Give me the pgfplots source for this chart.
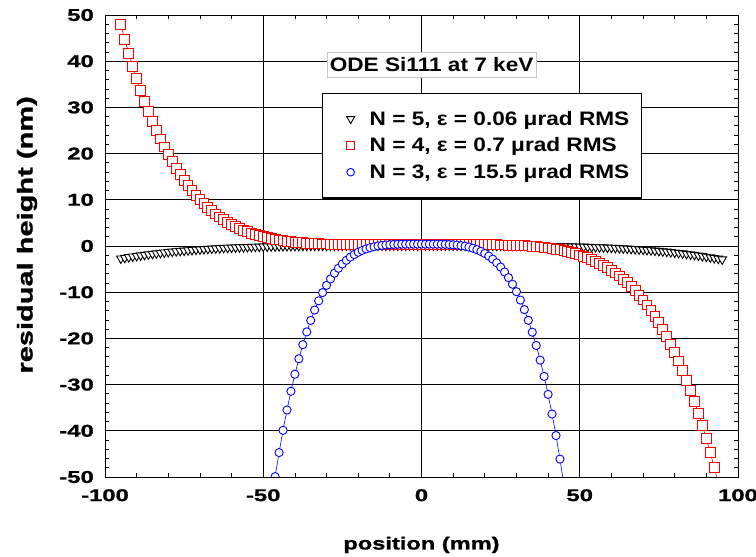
\documentclass[border=0pt]{standalone}
\usepackage{fontspec}
\setmainfont{Liberation Sans}[FakeStretch=1.16]
\newfontfamily\tickfont{Liberation Sans}[FakeStretch=1.4, FakeBold=1.2]
\newfontfamily\labfont{Liberation Sans}[FakeStretch=1.35, FakeBold=1.2]
\usepackage{pgfplots}
\pgfplotsset{compat=1.18}
\begin{document}
\begin{tikzpicture}
\useasboundingbox (0,0) rectangle (756pt,557pt);
\begin{axis}[
  at={(105pt,80pt)}, anchor=south west,
  width=633pt, height=462pt, scale only axis,
  xmin=-100, xmax=100, ymin=-50, ymax=50,
  xtick={-100,-50,0,50,100}, ytick={-50,-40,...,50},
  minor x tick num=4, minor y tick num=4,
  tick align=inside, major tick length=0pt, minor tick length=4pt,
  minor tick style={black, line width=0.8pt},
  grid=major, major grid style={black, line width=0.8pt},
  axis line style={black, line width=0.9pt},
  /pgf/number format/assume math mode=true,
  ticklabel style={font=\tickfont\bfseries\fontsize{17}{17}\selectfont, inner sep=0pt},
  yticklabel style={xshift=-11pt},
  xticklabel style={yshift=-12pt},
  xlabel={position (mm)}, ylabel={residual height (nm)},
  xlabel style={font=\labfont\bfseries\fontsize{17.5}{17.5}\selectfont, at={(axis description cs:0.5,-0.147)}, anchor=center},
  ylabel style={font=\labfont\bfseries\fontsize{21.5}{21.5}\selectfont, at={(axis description cs:-0.1232,0.524)}, anchor=center},
  clip marker paths=true,
  legend style={at={(0.343,0.832)}, anchor=north west, draw=black, line width=1.1pt, fill=white,
    font=\bfseries\fontsize{19.5}{19.5}\selectfont, inner xsep=12pt, inner ysep=18pt,
    row sep=11pt, column sep=13pt, nodes={inner sep=0pt}},
  legend cell align=left,
  legend image code/.code={\pgfpathmoveto{\pgfpoint{0pt}{0pt}}\pgfpathlineto{\pgfpoint{22pt}{0pt}}\pgfusepath{}\draw[mark repeat=2,mark phase=2,#1] plot coordinates {(0pt,0pt) (16pt,0pt) (22pt,0pt)};},
]
\addplot[forget plot, black, line width=0.6pt, mark=triangle*, mark size=5pt, mark options={solid, rotate=180, fill=white, draw=black, line width=0.9pt}] coordinates {
(-95,-2.70) (-93.75,-2.56) (-92.5,-2.42) (-91.25,-2.28) (-90,-2.16) (-88.75,-2.03) (-87.5,-1.92) (-86.25,-1.80) (-85,-1.69) (-83.75,-1.59) (-82.5,-1.49) (-81.25,-1.40) (-80,-1.31) (-78.75,-1.22) (-77.5,-1.14) (-76.25,-1.06) (-75,-0.99) (-73.75,-0.92) (-72.5,-0.85) (-71.25,-0.79) (-70,-0.73) (-68.75,-0.67) (-67.5,-0.61) (-66.25,-0.56) (-65,-0.51) (-63.75,-0.47) (-62.5,-0.42) (-61.25,-0.38) (-60,-0.35) (-58.75,-0.31) (-57.5,-0.28) (-56.25,-0.24) (-55,-0.21) (-53.75,-0.19) (-52.5,-0.16) (-51.25,-0.14) (-50,-0.11) (-48.75,-0.09) (-47.5,-0.08) (-46.25,-0.06) (-45,-0.04) (-43.75,-0.03) (-42.5,-0.01) (-41.25,0.00) (-40,0.01) (-38.75,0.02) (-37.5,0.03) (-36.25,0.04) (-35,0.05) (-33.75,0.06) (-32.5,0.06) (-31.25,0.07) (-30,0.07) (-28.75,0.08) (-27.5,0.08) (-26.25,0.08) (-25,0.09) (-23.75,0.09) (-22.5,0.09) (-21.25,0.09) (-20,0.09) (-18.75,0.10) (-17.5,0.10) (-16.25,0.10) (-15,0.10) (-13.75,0.10) (-12.5,0.10) (-11.25,0.10) (-10,0.10) (-8.75,0.10) (-7.5,0.10) (-6.25,0.10) (-5,0.10) (-3.75,0.10) (-2.5,0.10) (-1.25,0.10)
(0,0.10) (1.25,0.10) (2.5,0.10) (3.75,0.10) (5,0.10) (6.25,0.10) (7.5,0.10) (8.75,0.10) (10,0.10) (11.25,0.10) (12.5,0.10) (13.75,0.10) (15,0.10) (16.25,0.10) (17.5,0.10) (18.75,0.10) (20,0.09) (21.25,0.09) (22.5,0.09) (23.75,0.09) (25,0.09) (26.25,0.08) (27.5,0.08) (28.75,0.07) (30,0.07) (31.25,0.06) (32.5,0.06) (33.75,0.05) (35,0.04) (36.25,0.04) (37.5,0.03) (38.75,0.02) (40,0.01) (41.25,-0.01) (42.5,-0.02) (43.75,-0.03) (45,-0.05) (46.25,-0.07) (47.5,-0.09) (48.75,-0.11) (50,-0.13) (51.25,-0.15) (52.5,-0.18) (53.75,-0.21) (55,-0.24) (56.25,-0.27) (57.5,-0.30) (58.75,-0.34) (60,-0.38) (61.25,-0.42) (62.5,-0.46) (63.75,-0.51) (65,-0.56) (66.25,-0.61) (67.5,-0.66) (68.75,-0.72) (70,-0.78) (71.25,-0.85) (72.5,-0.92) (73.75,-0.99) (75,-1.07) (76.25,-1.15) (77.5,-1.23) (78.75,-1.32) (80,-1.41) (81.25,-1.51) (82.5,-1.61) (83.75,-1.71) (85,-1.82) (86.25,-1.94) (87.5,-2.06) (88.75,-2.19) (90,-2.32) (91.25,-2.45) (92.5,-2.60) (93.75,-2.75) (95,-2.90)
};
\addplot[forget plot, red, line width=0.6pt, mark=square*, mark size=4.9pt, mark options={solid, fill=white, draw=red, line width=1pt}] coordinates {
(-95,47.90) (-93.75,44.73) (-92.5,41.74) (-91.25,38.91) (-90,36.23) (-88.75,33.71) (-87.5,31.34) (-86.25,29.10) (-85,26.99) (-83.75,25.02) (-82.5,23.16) (-81.25,21.41) (-80,19.78) (-78.75,18.25) (-77.5,16.81) (-76.25,15.47) (-75,14.22) (-73.75,13.06) (-72.5,11.97) (-71.25,10.96) (-70,10.03) (-68.75,9.16) (-67.5,8.35) (-66.25,7.60) (-65,6.92) (-63.75,6.28) (-62.5,5.70) (-61.25,5.16) (-60,4.66) (-58.75,4.21) (-57.5,3.80) (-56.25,3.42) (-55,3.08) (-53.75,2.76) (-52.5,2.48) (-51.25,2.22) (-50,1.99) (-48.75,1.78) (-47.5,1.60) (-46.25,1.43) (-45,1.28) (-43.75,1.14) (-42.5,1.03) (-41.25,0.92) (-40,0.83) (-38.75,0.75) (-37.5,0.68) (-36.25,0.62) (-35,0.56) (-33.75,0.52) (-32.5,0.48) (-31.25,0.45) (-30,0.42) (-28.75,0.40) (-27.5,0.38) (-26.25,0.36) (-25,0.35) (-23.75,0.34) (-22.5,0.33) (-21.25,0.32) (-20,0.31) (-18.75,0.31) (-17.5,0.30) (-16.25,0.30) (-15,0.30) (-13.75,0.30) (-12.5,0.30) (-11.25,0.30) (-10,0.30) (-8.75,0.30) (-7.5,0.30) (-6.25,0.30) (-5,0.30) (-3.75,0.30) (-2.5,0.30) (-1.25,0.30)
(0,0.30) (1.25,0.30) (2.5,0.30) (3.75,0.30) (5,0.30) (6.25,0.30) (7.5,0.30) (8.75,0.30) (10,0.30) (11.25,0.30) (12.5,0.30) (13.75,0.30) (15,0.29) (16.25,0.29) (17.5,0.29) (18.75,0.28) (20,0.28) (21.25,0.27) (22.5,0.26) (23.75,0.25) (25,0.23) (26.25,0.21) (27.5,0.19) (28.75,0.16) (30,0.13) (31.25,0.09) (32.5,0.04) (33.75,-0.01) (35,-0.07) (36.25,-0.15) (37.5,-0.23) (38.75,-0.32) (40,-0.43) (41.25,-0.55) (42.5,-0.69) (43.75,-0.84) (45,-1.01) (46.25,-1.21) (47.5,-1.42) (48.75,-1.66) (50,-1.93) (51.25,-2.22) (52.5,-2.54) (53.75,-2.89) (55,-3.28) (56.25,-3.71) (57.5,-4.18) (58.75,-4.68) (60,-5.24) (61.25,-5.84) (62.5,-6.49) (63.75,-7.20) (65,-7.96) (66.25,-8.79) (67.5,-9.68) (68.75,-10.64) (70,-11.67) (71.25,-12.78) (72.5,-13.96) (73.75,-15.24) (75,-16.60) (76.25,-18.05) (77.5,-19.61) (78.75,-21.27) (80,-23.03) (81.25,-24.91) (82.5,-26.91) (83.75,-29.04) (85,-31.30) (86.25,-33.69) (87.5,-36.22) (88.75,-38.91) (90,-41.75) (91.25,-44.75) (92.5,-47.92) (93.75,-51.27) (95,-54.80)
};
\addplot[forget plot, blue, line width=0.6pt, mark=*, mark size=4.1pt, mark options={solid, fill=white, draw=blue, line width=0.9pt}] coordinates {
(-47.5,-55.60) (-46.25,-49.93) (-45,-44.71) (-43.75,-39.90) (-42.5,-35.49) (-41.25,-31.45) (-40,-27.76) (-38.75,-24.40) (-37.5,-21.35) (-36.25,-18.59) (-35,-16.11) (-33.75,-13.87) (-32.5,-11.87) (-31.25,-10.09) (-30,-8.51) (-28.75,-7.12) (-27.5,-5.89) (-26.25,-4.82) (-25,-3.90) (-23.75,-3.10) (-22.5,-2.42) (-21.25,-1.84) (-20,-1.36) (-18.75,-0.96) (-17.5,-0.63) (-16.25,-0.37) (-15,-0.16) (-13.75,0.01) (-12.5,0.13) (-11.25,0.22) (-10,0.29) (-8.75,0.34) (-7.5,0.37) (-6.25,0.38) (-5,0.39) (-3.75,0.40) (-2.5,0.40) (-1.25,0.40)
(0,0.40) (1.25,0.40) (2.5,0.40) (3.75,0.40) (5,0.39) (6.25,0.38) (7.5,0.36) (8.75,0.33) (10,0.27) (11.25,0.20) (12.5,0.09) (13.75,-0.05) (15,-0.24) (16.25,-0.49) (17.5,-0.79) (18.75,-1.17) (20,-1.63) (21.25,-2.19) (22.5,-2.85) (23.75,-3.64) (25,-4.56) (26.25,-5.63) (27.5,-6.86) (28.75,-8.28) (30,-9.89) (31.25,-11.71) (32.5,-13.77) (33.75,-16.08) (35,-18.66) (36.25,-21.53) (37.5,-24.71) (38.75,-28.23) (40,-32.11) (41.25,-36.37) (42.5,-41.03) (43.75,-46.13) (45,-51.68) (46.25,-57.71)
};
\addlegendimage{only marks, black, mark=triangle*, mark size=4.6pt, mark options={rotate=180, fill=white, draw=black, line width=0.9pt}}
\addlegendentry{N = 5, ε = 0.06 μrad RMS}
\addlegendimage{only marks, red, mark=square*, mark size=4.3pt, mark options={fill=white, draw=red, line width=1pt}}
\addlegendentry{N = 4, ε = 0.7 μrad RMS}
\addlegendimage{only marks, blue, mark=*, mark size=3.8pt, mark options={fill=white, draw=blue, line width=0.9pt}}
\addlegendentry{N = 3, ε = 15.5 μrad RMS}
\node[draw=gray!45, fill=white, line width=0.8pt, inner xsep=2.5pt, inner ysep=5pt, text height=14pt, text depth=1pt, font=\bfseries\fontsize{19.5}{19.5}\selectfont] at (rel axis cs:0.516,0.891) {ODE Si111 at 7 keV};
\end{axis}
\end{tikzpicture}
\end{document}
